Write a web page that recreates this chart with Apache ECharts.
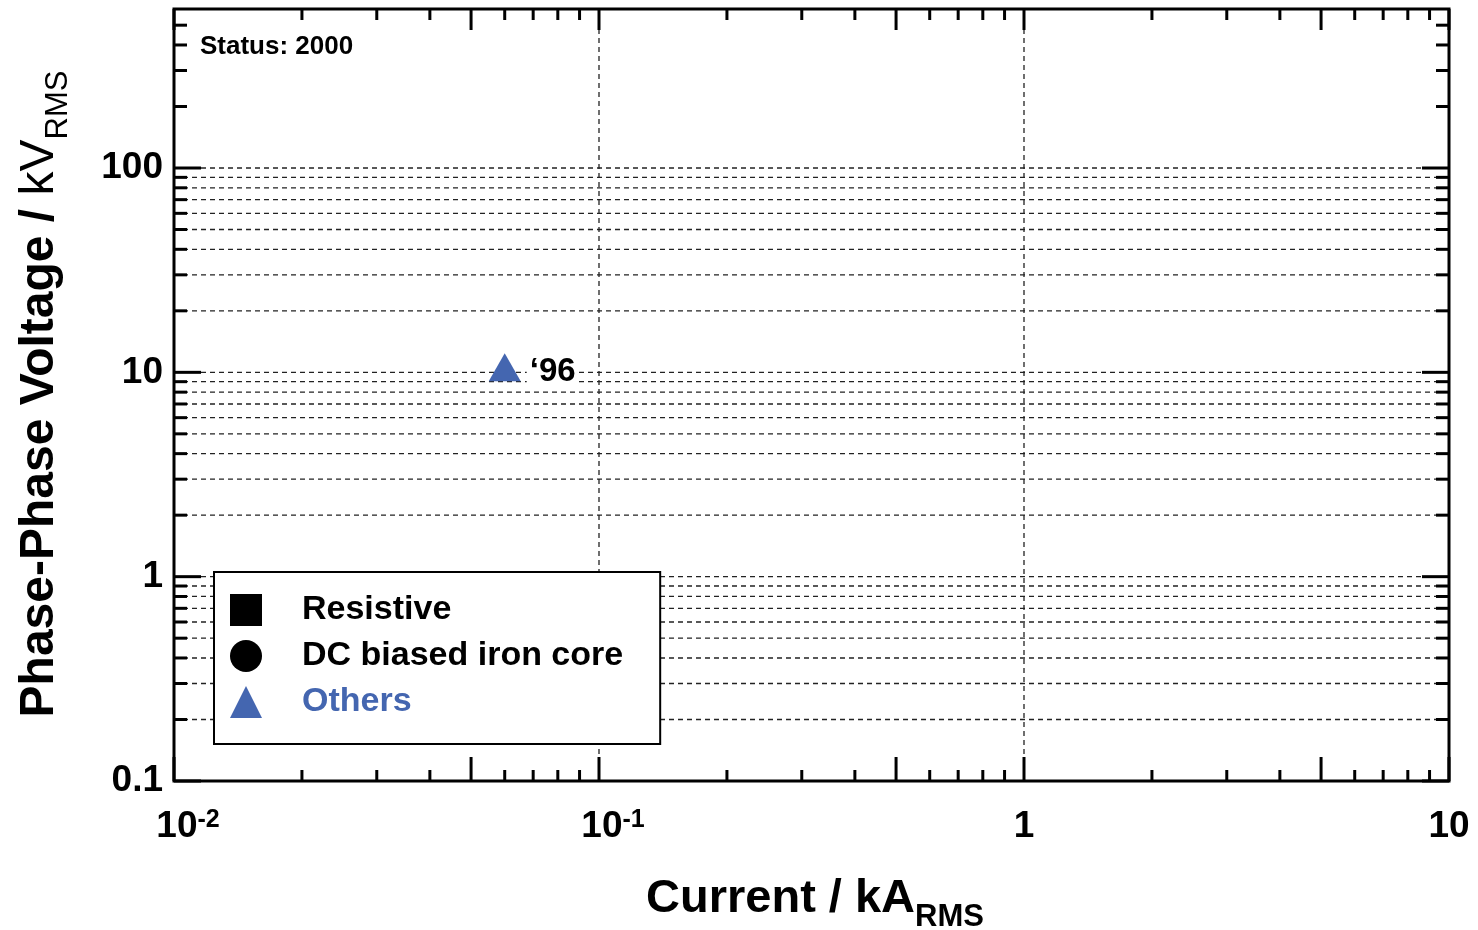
<!DOCTYPE html>
<html>
<head>
<meta charset="utf-8">
<script src="https://cdn.jsdelivr.net/npm/echarts@6/dist/echarts.min.js"></script>
<style>
html,body{margin:0;padding:0;background:#fff;}
#chart{width:1478px;height:930px;}
</style>
</head>
<body>
<div id="chart"></div>
<script>
// ---- data ----
const seriesNames = ['Resistive', 'DC biased iron core', 'Others'];
const resistiveData = [];
const dcIronCoreData = [];
const othersData = [[0.06, 10]];
const othersLabels = ['\u201896'];

// axis ranges
const xRange = [0.01, 10];
const yRange = [0.1, 600];

// tick labels
const xLabelValues = [0.01, 0.1, 1, 10];
const xLabelTexts = ['{sp|}{n|10}{sup|-2}', '{sp|}{n|10}{sup|-1}', '{n|1}', '{n|10}'];
const yLabelValues = [0.1, 1, 10, 100];
const yLabelTexts = ['0.1', '1', '10', '100'];

// tick marks
const xMajorTicks = [0.01, 0.05, 0.1, 0.5, 1, 5, 10];
const xMinorTicks = [0.02, 0.03, 0.04, 0.06, 0.07, 0.08, 0.09,
                     0.2, 0.3, 0.4, 0.6, 0.7, 0.8, 0.9,
                     2, 3, 4, 6, 7, 8, 9];
const yMajorTicks = [0.1, 1, 10, 100];
const yMinorTicks = [0.2, 0.3, 0.4, 0.5, 0.6, 0.7, 0.8, 0.9,
                     2, 3, 4, 5, 6, 7, 8, 9,
                     20, 30, 40, 50, 60, 70, 80, 90,
                     200, 300, 400, 500];

// dashed grid lines
const gridYValues = [0.2, 0.3, 0.4, 0.5, 0.6, 0.7, 0.8, 0.9, 1,
                     2, 3, 4, 5, 6, 7, 8, 9, 10,
                     20, 30, 40, 50, 60, 70, 80, 90, 100];
const gridXValues = [0.1, 1];

const statusText = 'Status: 2000';

// ---- chart ----
const FONT = '"Liberation Sans", Arial, sans-serif';
const BLUE = '#4466b0';
const chart = echarts.init(document.getElementById('chart'), null, {renderer: 'canvas'});

function labelFor(values, texts, v) {
  for (let i = 0; i < values.length; i++) {
    if (Math.abs(Math.log10(values[i]) - Math.log10(v)) < 1e-6) return texts[i];
  }
  return '';
}

const option = {
  backgroundColor: '#fff',
  animation: false,
  grid: {left: 174, right: 29, top: 9, bottom: 149, show: true, borderColor: '#000', borderWidth: 3, backgroundColor: 'transparent'},
  xAxis: {
    type: 'log', logBase: 10, min: xRange[0], max: xRange[1],
    axisLine: {show: false}, axisTick: {show: false}, splitLine: {show: false},
    axisLabel: {
      margin: 27, color: '#000',
      formatter: v => labelFor(xLabelValues, xLabelTexts, v),
      rich: {
        n: {fontSize: 37, fontWeight: 'bold', fontFamily: FONT, lineHeight: 37, color: '#000'},
        sup: {fontSize: 25, fontWeight: 'bold', fontFamily: FONT, lineHeight: 20, verticalAlign: 'top', color: '#000'},
        sp: {width: 28}
      }
    }
  },
  yAxis: {
    type: 'log', logBase: 10, min: yRange[0], max: yRange[1],
    axisLine: {show: false}, axisTick: {show: false}, splitLine: {show: false},
    axisLabel: {
      margin: 11, color: '#000', fontSize: 37, fontWeight: 'bold', fontFamily: FONT,
      formatter: v => labelFor(yLabelValues, yLabelTexts, v)
    }
  },
  legend: {
    orient: 'vertical', left: 214, top: 572,
    padding: [21, 37, 25, 16], itemGap: 12, itemWidth: 32, itemHeight: 32,
    backgroundColor: '#fff', borderColor: '#000', borderWidth: 2,
    textStyle: {fontSize: 34, fontWeight: 'bold', fontFamily: FONT, color: '#000', padding: [0, 0, 0, 35]},
    data: [
      {name: seriesNames[0], icon: 'rect'},
      {name: seriesNames[1], icon: 'circle'},
      {name: seriesNames[2], icon: 'triangle', textStyle: {color: BLUE}}
    ]
  },
  graphic: [
    {type: 'text', left: 200, top: 34, z: 10,
     style: {text: statusText, font: 'bold 26px ' + FONT, fill: '#000'}},
    {type: 'text', x: 815, y: 904, z: 10,
     style: {text: '{b|Current / kA}{s|RMS}', align: 'center', verticalAlign: 'middle',
       rich: {
         b: {fontSize: 47, fontWeight: 'bold', fontFamily: FONT, lineHeight: 47, verticalAlign: 'top', fill: '#000'},
         s: {fontSize: 31, fontWeight: 'bold', fontFamily: FONT, verticalAlign: 'top', padding: [26, 0, 0, 0], fill: '#000'}
       }}},
    {type: 'text', x: 45, y: 394, rotation: Math.PI / 2, z: 10,
     style: {text: '{b|Phase-Phase Voltage / }{r|kV}{s|RMS}', align: 'center', verticalAlign: 'middle',
       rich: {
         b: {fontSize: 48, fontWeight: 'bold', fontFamily: FONT, lineHeight: 48, verticalAlign: 'top', fill: '#000'},
         r: {fontSize: 48, fontWeight: 'normal', fontFamily: FONT, lineHeight: 48, verticalAlign: 'top', fill: '#000'},
         s: {fontSize: 31, fontWeight: 'normal', fontFamily: FONT, verticalAlign: 'top', padding: [27, 0, 0, 0], fill: '#000'}
       }}}
  ],
  series: [
    // dashed grid lines
    {
      type: 'custom', coordinateSystem: 'cartesian2d', silent: true, z: 1,
      data: gridYValues.map(v => [xRange[0], v, 0]).concat(gridXValues.map(v => [v, yRange[0], 1])),
      renderItem: (params, api) => {
        const horiz = api.value(2) === 0;
        let p1, p2;
        if (horiz) { p1 = api.coord([xRange[0], api.value(1)]); p2 = api.coord([xRange[1], api.value(1)]); }
        else { p1 = api.coord([api.value(0), yRange[0]]); p2 = api.coord([api.value(0), yRange[1]]); }
        return {type: 'line', shape: {x1: p1[0], y1: p1[1], x2: p2[0], y2: p2[1]},
                style: {stroke: '#222', lineWidth: 1.3, lineDash: [5, 4]}};
      }
    },
    // x ticks (bottom and top)
    {
      type: 'custom', coordinateSystem: 'cartesian2d', silent: true, z: 3,
      data: xMajorTicks.map(v => [v, yRange[0], 1]).concat(xMinorTicks.map(v => [v, yRange[0], 0])),
      renderItem: (params, api) => {
        const len = api.value(2) ? 24 : 11;
        const b = api.coord([api.value(0), yRange[0]]);
        const t = api.coord([api.value(0), yRange[1]]);
        const st = {stroke: '#000', lineWidth: 3};
        return {type: 'group', children: [
          {type: 'line', shape: {x1: b[0], y1: b[1], x2: b[0], y2: b[1] - len}, style: st},
          {type: 'line', shape: {x1: t[0], y1: t[1], x2: t[0], y2: t[1] + (api.value(2) ? 21 : 11)}, style: st}
        ]};
      }
    },
    // y ticks (left and right)
    {
      type: 'custom', coordinateSystem: 'cartesian2d', silent: true, z: 3,
      data: yMajorTicks.map(v => [xRange[0], v, 1]).concat(yMinorTicks.map(v => [xRange[0], v, 0])),
      renderItem: (params, api) => {
        const len = api.value(2) ? 27 : 13;
        const l = api.coord([xRange[0], api.value(1)]);
        const r = api.coord([xRange[1], api.value(1)]);
        const st = {stroke: '#000', lineWidth: 3};
        return {type: 'group', children: [
          {type: 'line', shape: {x1: l[0], y1: l[1], x2: l[0] + len, y2: l[1]}, style: st},
          {type: 'line', shape: {x1: r[0], y1: r[1], x2: r[0] - len, y2: r[1]}, style: st}
        ]};
      }
    },
    {name: seriesNames[0], type: 'scatter', symbol: 'rect', symbolSize: 30, itemStyle: {color: '#000', opacity: 1}, data: resistiveData, z: 5},
    {name: seriesNames[1], type: 'scatter', symbol: 'circle', symbolSize: 30, itemStyle: {color: '#000', opacity: 1}, data: dcIronCoreData, z: 5},
    {
      name: seriesNames[2], type: 'scatter', symbol: 'triangle', symbolSize: [32, 28], symbolOffset: [0, -5],
      itemStyle: {color: BLUE, opacity: 1}, data: othersData, z: 5,
      label: {
        show: true, position: 'right', distance: 4, offset: [2, 5],
        formatter: p => othersLabels[p.dataIndex],
        fontSize: 33, fontWeight: 'bold', fontFamily: FONT, color: '#000', opacity: 1,
        backgroundColor: '#fff', padding: [2, 3, 0, 3]
      }
    }
  ]
};
chart.setOption(option);
</script>
</body>
</html>
